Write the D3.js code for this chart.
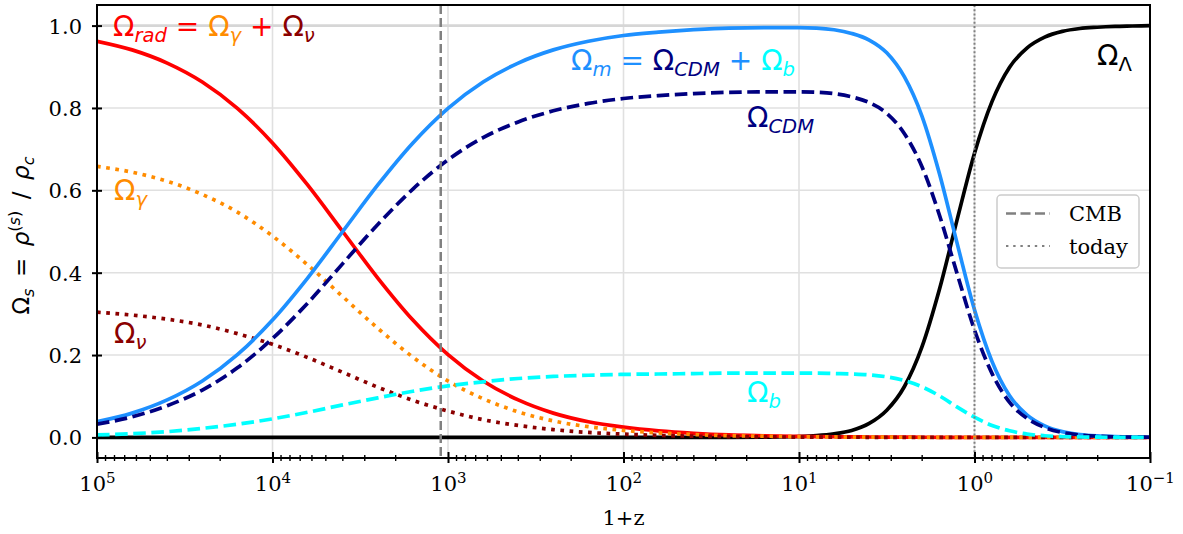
<!DOCTYPE html>
<html>
<head>
<meta charset="utf-8">
<script src="https://cdn.jsdelivr.net/npm/d3@7"></script>
<style>
  body { margin: 0; background: #fff; }
  svg { display: block; }
  text { white-space: pre; }
</style>
</head>
<body>
<svg id="chart" width="1183" height="534"></svg>
<script>
// Redshift samples (1+z), from the radiation era to the far future
const onePlusZ = [100000, 63096, 39811, 25119, 15849, 10000, 6310, 3981, 2512, 1585,
  1000, 631, 398.1, 251.2, 158.5, 100, 63.1, 39.81, 25.12, 15.85,
  10, 7.943, 6.31, 5.012, 3.981, 3.162, 2.512, 1.995, 1.585, 1.259,
  1, 0.794, 0.631, 0.501, 0.398, 0.316, 0.251, 0.2, 0.158, 0.126, 0.1];

// Density parameters of each component
const omegaRad = [0.962, 0.941, 0.909, 0.863, 0.799, 0.715, 0.613, 0.500, 0.387, 0.285,
  0.201, 0.137, 0.091, 0.059, 0.038, 0.025, 0.016, 0.010, 0.006, 0.004,
  0.0025, 0.002, 0.0016, 0.0012, 0.001, 0.0007, 0.0006, 0.0004, 0.0003, 0.0002,
  0.0001, 0, 0, 0, 0, 0, 0, 0, 0, 0, 0];
const omegaGamma = [0.658, 0.644, 0.622, 0.590, 0.547, 0.489, 0.419, 0.342, 0.265, 0.195,
  0.137, 0.094, 0.062, 0.040, 0.026, 0.017, 0.011, 0.007, 0.004, 0.003,
  0.0017, 0.0014, 0.0011, 0.0008, 0.0007, 0.0005, 0.0004, 0.0003, 0.0002, 0.0001,
  0.0001, 0, 0, 0, 0, 0, 0, 0, 0, 0, 0];
const omegaNu = [0.304, 0.297, 0.287, 0.273, 0.252, 0.226, 0.194, 0.158, 0.122, 0.090,
  0.064, 0.043, 0.029, 0.019, 0.012, 0.008, 0.005, 0.003, 0.002, 0.0013,
  0.0008, 0.0006, 0.0005, 0.0004, 0.0003, 0.0002, 0.0002, 0.0001, 0.0001, 0.0001,
  0, 0, 0, 0, 0, 0, 0, 0, 0, 0, 0];
const omegaM = [0.038, 0.059, 0.091, 0.137, 0.201, 0.285, 0.387, 0.500, 0.613, 0.715,
  0.799, 0.863, 0.909, 0.941, 0.962, 0.976, 0.984, 0.990, 0.994, 0.995,
  0.995, 0.994, 0.990, 0.981, 0.965, 0.934, 0.876, 0.781, 0.641, 0.473,
  0.310, 0.184, 0.101, 0.054, 0.028, 0.014, 0.007, 0.0036, 0.0018, 0.0009, 0.0005];
const omegaCDM = [0.032, 0.050, 0.077, 0.115, 0.169, 0.240, 0.326, 0.422, 0.517, 0.603,
  0.674, 0.728, 0.766, 0.793, 0.811, 0.823, 0.830, 0.835, 0.838, 0.839,
  0.839, 0.838, 0.835, 0.827, 0.813, 0.787, 0.738, 0.658, 0.540, 0.399,
  0.261, 0.155, 0.085, 0.046, 0.024, 0.012, 0.006, 0.003, 0.0015, 0.0008, 0.0004];
const omegaB = [0.006, 0.009, 0.014, 0.022, 0.032, 0.045, 0.061, 0.079, 0.096, 0.112,
  0.125, 0.135, 0.143, 0.148, 0.151, 0.153, 0.154, 0.155, 0.156, 0.156,
  0.156, 0.156, 0.155, 0.154, 0.152, 0.147, 0.138, 0.123, 0.101, 0.074,
  0.049, 0.029, 0.016, 0.008, 0.004, 0.002, 0.001, 0.0006, 0.0003, 0.0001, 0.0001];
const omegaLambda = [0, 0, 0, 0, 0, 0, 0, 0, 0, 0,
  0, 0, 0, 0, 0, 0, 0.00001, 0.00003, 0.0001, 0.0006,
  0.0022, 0.0044, 0.0088, 0.017, 0.034, 0.066, 0.123, 0.219, 0.359, 0.527,
  0.690, 0.816, 0.899, 0.946, 0.972, 0.986, 0.993, 0.996, 0.998, 0.999, 1.000];

// Reference epochs
const onePlusZCMB = 1100;
const onePlusZToday = 1;

// Ticks
const xMajorExp = [5, 4, 3, 2, 1, 0, -1];
const yTickValues = [0.0, 0.2, 0.4, 0.6, 0.8, 1.0];

const svg = d3.select("#chart");
const plot = { left: 97, right: 1150, top: 5, bottom: 458 };

const x = d3.scaleLog().domain([1e5, 1e-1]).range([plot.left, plot.right]);
const y = d3.scaleLinear().domain([-0.05, 1.05]).range([plot.bottom, plot.top]);

const SERIF = "'DejaVu Serif', serif";
const SANS = "'DejaVu Sans', sans-serif";
const LW = 3.7;

svg.append("defs").append("clipPath").attr("id", "plotClip")
  .append("rect")
  .attr("x", plot.left).attr("y", plot.top)
  .attr("width", plot.right - plot.left).attr("height", plot.bottom - plot.top);

// Grid
const grid = svg.append("g");
xMajorExp.filter(e => e < 5 && e > -1).forEach(e => {
  grid.append("line")
    .attr("x1", x(Math.pow(10, e))).attr("x2", x(Math.pow(10, e)))
    .attr("y1", plot.top).attr("y2", plot.bottom)
    .attr("stroke", "#e0e0e0").attr("stroke-width", 1.6);
});
yTickValues.forEach(v => {
  grid.append("line")
    .attr("x1", plot.left).attr("x2", plot.right)
    .attr("y1", y(v)).attr("y2", y(v))
    .attr("stroke", v === 1 ? "#d6d6d6" : "#e0e0e0")
    .attr("stroke-width", v === 1 ? 2.8 : 1.6);
});

// Curves
const curves = svg.append("g").attr("clip-path", "url(#plotClip)");
const line = d3.line()
  .x(d => x(d[0]))
  .y(d => y(d[1]))
  .curve(d3.curveMonotoneX);

const DOT = `${LW},${(LW * 1.5).toFixed(2)}`;
const DASH = `${(LW * 3.4).toFixed(2)},${(LW * 1.5).toFixed(2)}`;
const series = [
  { values: omegaLambda, color: "#000000", dash: null },
  { values: omegaRad, color: "#ff0000", dash: null },
  { values: omegaGamma, color: "#ff8c00", dash: DOT },
  { values: omegaNu, color: "#8b0000", dash: DOT },
  { values: omegaM, color: "#1e90ff", dash: null },
  { values: omegaCDM, color: "#000080", dash: DASH },
  { values: omegaB, color: "#00ffff", dash: DASH }
];
series.forEach(s => {
  curves.append("path")
    .datum(onePlusZ.map((z, i) => [z, s.values[i]]))
    .attr("d", line)
    .attr("fill", "none")
    .attr("stroke", s.color)
    .attr("stroke-width", LW)
    .attr("stroke-dasharray", s.dash)
    .attr("stroke-linejoin", "round");
});

// Epoch markers
curves.append("line")
  .attr("x1", x(onePlusZCMB)).attr("x2", x(onePlusZCMB))
  .attr("y1", plot.top).attr("y2", plot.bottom)
  .attr("stroke", "#808080").attr("stroke-width", 2.5)
  .attr("stroke-dasharray", "9,4");
curves.append("line")
  .attr("x1", x(onePlusZToday)).attr("x2", x(onePlusZToday))
  .attr("y1", plot.top).attr("y2", plot.bottom)
  .attr("stroke", "#808080").attr("stroke-width", 2)
  .attr("stroke-dasharray", "2,2.2");

// Frame
svg.append("rect")
  .attr("x", plot.left).attr("y", plot.top)
  .attr("width", plot.right - plot.left).attr("height", plot.bottom - plot.top)
  .attr("fill", "none").attr("stroke", "#000").attr("stroke-width", 2);

// X axis: major and minor ticks crossing the spine
const majorVals = xMajorExp.map(e => Math.pow(10, e));
const minorVals = [];
for (let e = -1; e < 5; e++) {
  for (let k = 2; k <= 9; k++) minorVals.push(k * Math.pow(10, e));
}
const gxMinor = svg.append("g").attr("transform", `translate(0,${plot.bottom})`)
  .call(d3.axisBottom(x).tickValues(minorVals).tickSize(3).tickSizeOuter(0).tickFormat(""));
gxMinor.select(".domain").remove();
gxMinor.selectAll(".tick line").attr("y1", -3).attr("stroke", "#000").attr("stroke-width", 1.4);

const gx = svg.append("g").attr("transform", `translate(0,${plot.bottom})`)
  .call(d3.axisBottom(x).tickValues(majorVals).tickSize(5).tickSizeOuter(0).tickFormat(""));
gx.select(".domain").remove();
gx.selectAll(".tick line").attr("y1", -6).attr("stroke", "#000").attr("stroke-width", 2);
gx.selectAll(".tick").each(function (d, i) {
  const t = d3.select(this).append("text")
    .attr("y", 33).attr("text-anchor", "middle")
    .attr("fill", "#000").style("font-family", SERIF).style("font-size", "21px");
  t.append("tspan").text("10");
  const e = xMajorExp[i];
  t.append("tspan").attr("dy", -8).style("font-size", "15px")
    .text(e < 0 ? "\u2212" + Math.abs(e) : String(e));
});

// Y axis
const gy = svg.append("g").attr("transform", `translate(${plot.left},0)`)
  .call(d3.axisLeft(y).tickValues(yTickValues).tickSize(5).tickSizeOuter(0).tickFormat(d3.format(".1f")));
gy.select(".domain").remove();
gy.selectAll(".tick line").attr("x1", 5).attr("stroke", "#000").attr("stroke-width", 2);
gy.selectAll(".tick text")
  .attr("x", -15).attr("dy", "0.36em").attr("fill", "#000")
  .style("font-family", SERIF).style("font-size", "21px");

// Math-style labels built from tspans (main / sub / sup pieces)
function mathText(parent, px, py, parts, size, opts = {}) {
  const t = parent.append("text")
    .attr("x", px).attr("y", py)
    .attr("text-anchor", opts.anchor || "start")
    .style("font-family", SANS).style("font-size", size + "px");
  if (opts.rotate) t.attr("transform", `rotate(${opts.rotate},${px},${py})`);
  let shift = 0;
  parts.forEach(p => {
    let target = 0, fs = size;
    if (p.sub) { target = size * 0.2; fs = size * 0.7; }
    if (p.sup) { target = -size * 0.38; fs = size * 0.7; }
    const ts = t.append("tspan").text(p.t)
      .attr("fill", p.color || "#000")
      .style("font-size", fs + "px");
    if (p.italic) ts.style("font-style", "italic");
    if (target !== shift) ts.attr("dy", target - shift);
    shift = target;
  });
  return t;
}

const ann = svg.append("g");
mathText(ann, 113, 36, [
  { t: "\u03A9", color: "#ff0000" }, { t: "rad", color: "#ff0000", sub: true, italic: true },
  { t: " = ", color: "#ff0000" },
  { t: "\u03A9", color: "#ff8c00" }, { t: "\u03B3", color: "#ff8c00", sub: true, italic: true },
  { t: " + ", color: "#ff0000" },
  { t: "\u03A9", color: "#8b0000" }, { t: "\u03BD", color: "#8b0000", sub: true, italic: true }
], 28);
mathText(ann, 114, 200, [
  { t: "\u03A9", color: "#ff8c00" }, { t: "\u03B3", color: "#ff8c00", sub: true, italic: true }
], 28);
mathText(ann, 114, 343, [
  { t: "\u03A9", color: "#8b0000" }, { t: "\u03BD", color: "#8b0000", sub: true, italic: true }
], 28);
mathText(ann, 571, 70, [
  { t: "\u03A9", color: "#1e90ff" }, { t: "m", color: "#1e90ff", sub: true, italic: true },
  { t: " = ", color: "#1e90ff" },
  { t: "\u03A9", color: "#000080" }, { t: "CDM", color: "#000080", sub: true, italic: true },
  { t: " + ", color: "#1e90ff" },
  { t: "\u03A9", color: "#00ffff" }, { t: "b", color: "#00ffff", sub: true, italic: true }
], 28);
mathText(ann, 747, 127, [
  { t: "\u03A9", color: "#000080" }, { t: "CDM", color: "#000080", sub: true, italic: true }
], 28);
mathText(ann, 747, 402, [
  { t: "\u03A9", color: "#00ffff" }, { t: "b", color: "#00ffff", sub: true, italic: true }
], 28);
mathText(ann, 1097, 65, [
  { t: "\u03A9", color: "#000" }, { t: "\u039B", color: "#000", sub: true }
], 28);

// Axis titles
mathText(svg, 29, (plot.top + plot.bottom) / 2 + 4, [
  { t: "\u03A9" }, { t: "s", sub: true, italic: true },
  { t: "\u2002=\u2002" }, { t: "\u03C1", italic: true },
  { t: "(", sup: true }, { t: "s", sup: true, italic: true }, { t: ")", sup: true },
  { t: "\u2002/\u2002" }, { t: "\u03C1", italic: true }, { t: "c", sub: true, italic: true }
], 23, { anchor: "middle", rotate: -90 });

svg.append("text")
  .attr("x", (plot.left + plot.right) / 2).attr("y", 525)
  .attr("text-anchor", "middle")
  .style("font-family", SERIF).style("font-size", "21px")
  .text("1+z");

// Legend
const lg = svg.append("g");
lg.append("rect")
  .attr("x", 997).attr("y", 195).attr("width", 142).attr("height", 73).attr("rx", 4)
  .attr("fill", "#fff").attr("fill-opacity", 0.8)
  .attr("stroke", "#cccccc").attr("stroke-width", 1.5);
const legendItems = [
  { label: "CMB", dash: "10,4.5", width: 2.5, yy: 213.5 },
  { label: "today", dash: "2.4,4.8", width: 2.2, yy: 246 }
];
legendItems.forEach(it => {
  lg.append("line")
    .attr("x1", 1006).attr("x2", 1050).attr("y1", it.yy).attr("y2", it.yy)
    .attr("stroke", "#808080").attr("stroke-width", it.width)
    .attr("stroke-dasharray", it.dash);
  lg.append("text")
    .attr("x", 1069).attr("y", it.yy + 7.5)
    .style("font-family", SERIF).style("font-size", "21px")
    .text(it.label);
});
</script>
</body>
</html>
